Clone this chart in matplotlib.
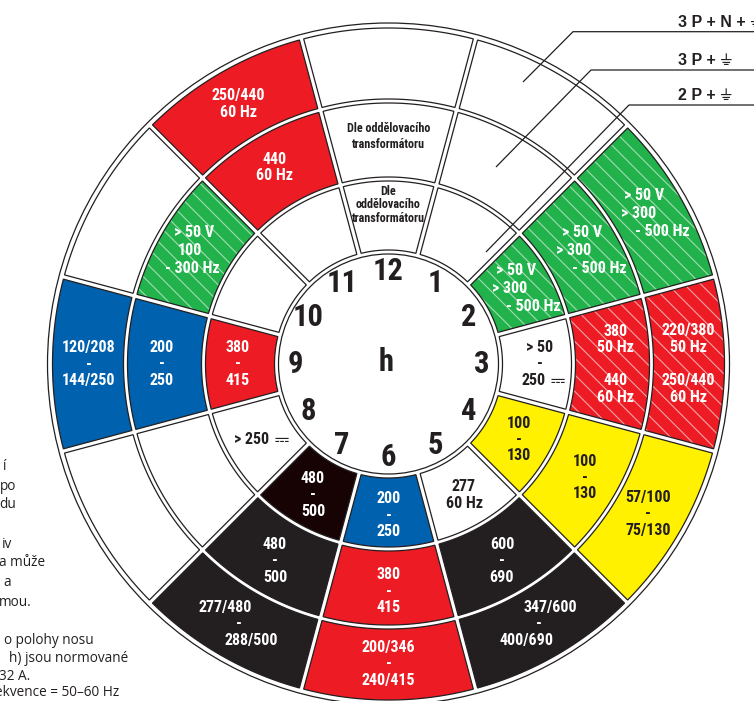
import numpy as np
import matplotlib
matplotlib.use('Agg')
import matplotlib.pyplot as plt
from matplotlib.patches import Polygon, Circle
from matplotlib import font_manager as fm
from matplotlib.ft2font import FT2Font

# ---------------- data ----------------
hours = list(range(1, 13))
ring_labels = ['2 P + ⏚', '3 P + ⏚', '3 P + N + ⏚']

ring1_fill = ['W', 'G', 'W', 'Y', 'W', 'B', 'D', 'W', 'R', 'W', 'W', 'W']
ring1_hatch = [0, 1, 0, 0, 0, 0, 0, 0, 0, 0, 0, 0]
ring1_text = ['', '> 50 V\n> 300\n- 500 Hz', '> 50\n-\n250 ⎓', '100\n-\n130',
              '277\n60 Hz', '200\n-\n250', '480\n-\n500', '> 250 ⎓', '380\n-\n415',
              '', '', 'Dle\noddělovacího\ntransformátoru']

ring2_fill = ['W', 'G', 'R', 'Y', 'K', 'R', 'K', 'W', 'B', 'G', 'R', 'W']
ring2_hatch = [0, 1, 1, 0, 0, 0, 0, 0, 0, 1, 0, 0]
ring2_text = ['', '> 50 V\n> 300\n- 500 Hz', '380\n50 Hz\n\n440\n60 Hz', '100\n-\n130',
              '600\n-\n690', '380\n-\n415', '480\n-\n500', '', '200\n-\n250',
              '> 50 V\n100\n- 300 Hz', '440\n60 Hz', 'Dle oddělovacího\ntransformátoru']

ring3_fill = ['W', 'G', 'R', 'Y', 'K', 'R', 'K', 'W', 'B', 'W', 'R', 'W']
ring3_hatch = [0, 1, 1, 0, 0, 0, 0, 0, 0, 0, 0, 0]
ring3_text = ['', '> 50 V\n> 300\n- 500 Hz', '220/380\n50 Hz\n\n250/440\n60 Hz',
              '57/100\n-\n75/130', '347/600\n-\n400/690', '200/346\n-\n240/415',
              '277/480\n-\n288/500', '', '120/208\n-\n144/250', '', '250/440\n60 Hz', '']

side_text = ['í', 'po', 'du', 'iv', 'a může', 'a', 'mou.', 'o polohy nosu',
             'h) jsou normované', '32 A.', 'ekvence = 50–60 Hz']

# ---------------- style / layout ----------------
COLORS = {'W': '#ffffff', 'G': '#22b24c', 'R': '#ed1c24', 'Y': '#fff100',
          'B': '#0061ae', 'K': '#231f20', 'D': '#170304'}
HATCHC = {'G': '#a3dcb2', 'R': '#f5a3a6'}
DARK = '#231f20'

names = {f.name for f in fm.fontManager.ttflist}
COND = next((c for c in ['Roboto Condensed', 'Archivo Narrow', 'Liberation Sans Narrow']
             if c in names), 'DejaVu Sans')
SIDEF = 'Open Sans' if 'Open Sans' in names else 'DejaVu Sans'


def find_font_for(ch):
    cp = ord(ch)
    pref = ['DejaVu Sans', 'STIXGeneral', 'DejaVu Sans Mono', 'Noto Sans Symbols',
            'Noto Sans Symbols 2', 'Noto Sans Math', 'FreeSans', 'FreeSerif']
    entries = sorted(fm.fontManager.ttflist,
                     key=lambda f: pref.index(f.name) if f.name in pref else len(pref))
    seen = set()
    for f in entries:
        if f.fname in seen:
            continue
        seen.add(f.fname)
        try:
            if FT2Font(f.fname).get_char_index(cp):
                return f.name, f.weight
        except Exception:
            continue
    return None, None


GROUND_F, GROUND_W = find_font_for('⏚')
DC_F, DC_W = find_font_for('⎓')

W, H = 754, 701
fig = plt.figure(figsize=(W / 100, H / 100), dpi=100)
ax = fig.add_axes([0, 0, 1, 1])
ax.set_xlim(0, W)
ax.set_ylim(H, 0)
ax.axis('off')

cx, cy = 388.5, 364.0
radii = [(114, 183), (187, 261), (265, 336)]
text_r = [151, 227, 300]
text_r_override = {(0, 12): 159}
line_dx = {(0, 2): [-3, -10, 14], (1, 2): [-3, -11, 14], (2, 2): [-4, -10, 14],
           (1, 10): [2, -2, 0], (2, 5): [12, 0, -12], (2, 7): [-13, 0, 13]}
plt.rcParams['hatch.linewidth'] = 0.8


def cell_poly(r1, r2, hour, gap=2.2, n=40):
    tc = 90 - 30 * hour
    a1, a2 = tc - 15, tc + 15
    d1 = np.degrees(np.arcsin(gap / r1))
    d2 = np.degrees(np.arcsin(gap / r2))
    inner = np.radians(np.linspace(a1 + d1, a2 - d1, n))
    outer = np.radians(np.linspace(a2 - d2, a1 + d2, n))
    xs = np.concatenate([cx + r1 * np.cos(inner), cx + r2 * np.cos(outer)])
    ys = np.concatenate([cy - r1 * np.sin(inner), cy - r2 * np.sin(outer)])
    return np.column_stack([xs, ys])


pending = []  # trailing symbols placed after the main text has been measured


def put_text(x, y, s, size, color, family, **kw):
    em = size * 100 / 72
    fam = [family]
    sym = None
    if '⏚' in s:
        if GROUND_F:
            fam.append(GROUND_F)
        else:
            s = s.replace('⏚', '').rstrip()
            sym = 'ground'
    if '⎓' in s:
        s = s.replace('⎓', '').rstrip()
        x = x - 0.4 * em
        sym = 'dc'
    fam.append('DejaVu Sans')
    t = ax.text(x, y, s, fontsize=size, color=color, family=fam, **kw)
    if sym:
        pending.append((sym, color, size, t))
    return t


rings = [(ring1_fill, ring1_hatch, ring1_text),
         (ring2_fill, ring2_hatch, ring2_text),
         (ring3_fill, ring3_hatch, ring3_text)]

for ri, (fills, hatches, texts) in enumerate(rings):
    r1, r2 = radii[ri]
    for h, f, ht, t in zip(hours, fills, hatches, texts):
        poly = cell_poly(r1, r2, h)
        if ht:
            ax.add_patch(Polygon(poly, closed=True, facecolor=COLORS[f],
                                 edgecolor=HATCHC[f], lw=0, hatch='\\\\'))
        else:
            ax.add_patch(Polygon(poly, closed=True, facecolor=COLORS[f], lw=0))
        ax.add_patch(Polygon(poly, closed=True, fill=False, edgecolor=DARK, lw=0.9))
        if not t:
            continue
        ang = np.radians(90 - 30 * h)
        rr = text_r_override.get((ri, h), text_r[ri])
        tx = cx + rr * np.cos(ang)
        ty = cy - rr * np.sin(ang)
        tcol = DARK if f in ('W', 'Y') else 'white'
        lines = t.split('\n')
        if t.startswith('Dle'):
            size, pitch = 8.7, (13.5 if ri == 0 else 16)
        elif t.startswith('> 50 V'):
            size, pitch = 11.5, 18
        else:
            size, pitch = 11.5, 16.5
        dxs = line_dx.get((ri, h), [0] * len(lines))
        n = len(lines)
        for i, (ln, dx) in enumerate(zip(lines, dxs)):
            if not ln:
                continue
            put_text(tx + dx, ty + (i - (n - 1) / 2) * pitch, ln, size, tcol, COND,
                     ha='center', va='center', fontweight='bold')

# central disc and outer circle
ax.add_patch(Circle((cx, cy), 110, facecolor='white', edgecolor=DARK, lw=0.9))
ax.add_patch(Circle((cx, cy), 341, fill=False, edgecolor=DARK, lw=0.9))

for h in hours:
    ang = np.radians(90 - 30 * h)
    ax.text(cx + 93 * np.cos(ang), cy - 93 * np.sin(ang), str(h), ha='center', va='center',
            fontsize=22, fontweight='bold', family=[COND, 'DejaVu Sans'], color=DARK)
ax.text(cx - 2, cy - 2, 'h', ha='center', va='center', fontsize=22, fontweight='bold',
        family=[COND, 'DejaVu Sans'], color=DARK)

# leader lines and ring labels
leaders = [((523, 82), (573, 31.7), 27), ((496, 167), (591, 70), 65), ((486, 252), (629, 105), 100)]
for lab, (p0, p1, by) in zip(ring_labels[::-1], leaders):
    ax.plot([p0[0], p1[0], W], [p0[1], p1[1], p1[1]], color=DARK, lw=0.9, solid_capstyle='butt')
    put_text(678, by, lab, 11.5, DARK, 'Liberation Sans', ha='left', va='baseline',
             fontweight='bold')

# cut-off side text
side_pos = [(6, 467), (16, 486), (16, 505), (12, 545), (45, 563), (11, 583), (32, 602),
            (94, 640), (128, 658), (30, 676), (119, 692)]
for s, (x, y) in zip(side_text, side_pos):
    ax.text(x, y, s, ha='right', va='center', fontsize=9.8, family=[SIDEF, 'DejaVu Sans'],
            color=DARK)

# trailing symbols: a real glyph where an installed font has one, a drawn shape otherwise
if pending:
    fig.canvas.draw()
    inv = ax.transData.inverted()
    for kind, col, size, t in pending:
        bb = t.get_window_extent()
        (x0, y0), (x1, y1) = inv.transform([[bb.x0, bb.y0], [bb.x1, bb.y1]])
        em = size * 100 / 72
        yc = t.get_position()[1]
        if kind == 'dc' and DC_F:
            ax.text(x1 + 0.28 * em, yc + 0.5, '⎓', ha='left', va='center', fontsize=size + 1,
                    family=[DC_F], fontweight=DC_W, color=col)
        elif kind == 'dc':
            w = 0.75 * em
            sx = x1 + 0.3 * em
            ax.plot([sx, sx + w], [yc - 0.1 * em] * 2, color=col, lw=1.5, solid_capstyle='butt')
            for k in range(3):
                xa = sx + k * w / 3
                ax.plot([xa, xa + w / 5], [yc + 0.08 * em] * 2, color=col, lw=1.5,
                        solid_capstyle='butt')
        else:
            cap = 0.72 * em
            w = 0.8 * em
            mx = x1 + 0.3 * em + w / 2
            top = yc - cap
            ax.plot([mx, mx], [top, top + 0.45 * cap], color=col, lw=1.2)
            for k, frac in enumerate([1.0, 0.62, 0.28]):
                yy = top + 0.45 * cap + k * 0.25 * cap
                ax.plot([mx - w * frac / 2, mx + w * frac / 2], [yy, yy], color=col, lw=1.2,
                        solid_capstyle='butt')

fig.savefig('out.png', dpi=100)
